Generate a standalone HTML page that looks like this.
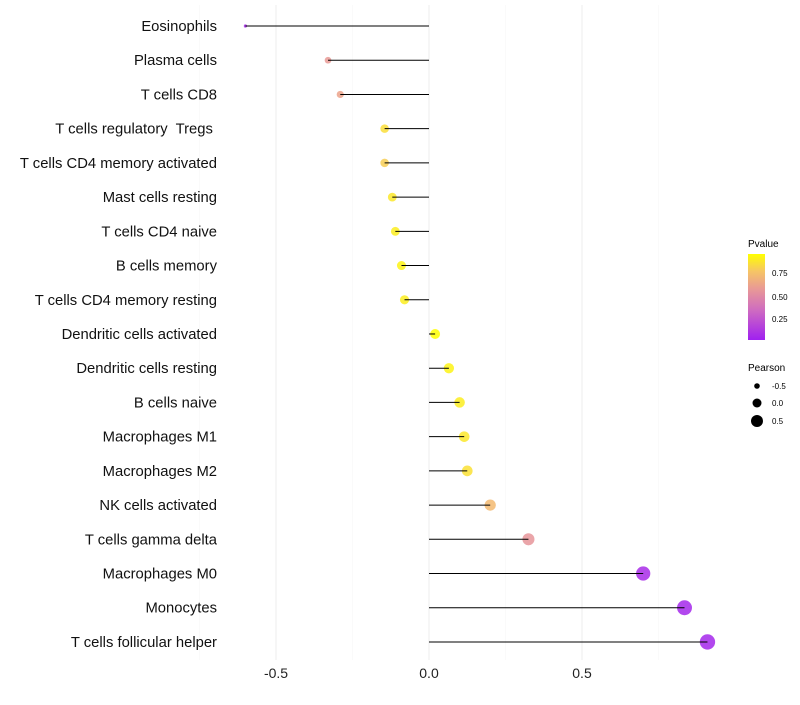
<!DOCTYPE html>
<html><head><meta charset="utf-8"><style>
body{margin:0;background:#fff;font-family:"Liberation Sans",sans-serif}
</style></head><body>
<svg id="chart" width="800" height="700" xmlns="http://www.w3.org/2000/svg">
<defs><linearGradient id="pg" x1="0" y1="1" x2="0" y2="0">
<stop offset="0" stop-color="#a020f0"/><stop offset="0.35" stop-color="#cf6cc0"/><stop offset="0.6" stop-color="#e99a95"/><stop offset="0.8" stop-color="#f6c565"/><stop offset="1" stop-color="#ffff00"/></linearGradient></defs>
<g id="grid"></g><g id="dots"></g><g id="stems"></g><g id="labels"></g>
<g>
<text x="748" y="247" font-size="10">Pvalue</text>
<rect x="748" y="254" width="17" height="86" fill="url(#pg)"/>
<text x="772" y="276" font-size="8">0.75</text><text x="772" y="300" font-size="8">0.50</text><text x="772" y="322" font-size="8">0.25</text>
</g>
<g>
<text x="748" y="371" font-size="10">Pearson</text>
<circle cx="757" cy="386" r="2.8"/><text x="772" y="389" font-size="8">-0.5</text>
<circle cx="757" cy="403" r="4.5"/><text x="772" y="406" font-size="8">0.0</text>
<circle cx="757" cy="421" r="6"/><text x="772" y="424" font-size="8">0.5</text>
</g>
</svg>
<script>
const cells=["Eosinophils","Plasma cells","T cells CD8","T cells regulatory  Tregs ","T cells CD4 memory activated","Mast cells resting","T cells CD4 naive","B cells memory","T cells CD4 memory resting","Dendritic cells activated","Dendritic cells resting","B cells naive","Macrophages M1","Macrophages M2","NK cells activated","T cells gamma delta","Macrophages M0","Monocytes","T cells follicular helper"];
const pearson=[-0.60,-0.33,-0.29,-0.145,-0.145,-0.12,-0.11,-0.09,-0.08,0.02,0.065,0.10,0.115,0.125,0.20,0.325,0.70,0.835,0.91];
const pvalue=[0.05,0.58,0.62,0.85,0.8,0.88,0.9,0.92,0.9,0.98,0.92,0.9,0.88,0.86,0.72,0.55,0.06,0.04,0.04];
const xticks=[-0.5,0,0.5];
const xtickLabels=["-0.5","0.0","0.5"];
const NS="http://www.w3.org/2000/svg";
const X=v=>429+v*306, Y=i=>26+i*34.22, R=v=>Math.max(1.6,6.2*Math.sqrt(Math.max(0,v+0.62)));
const stops=[[0,[160,32,240]],[0.35,[207,108,192]],[0.6,[233,154,149]],[0.8,[246,197,101]],[1,[255,255,0]]];
function col(p){p=Math.max(0,Math.min(1,(p-0.006)/0.954));for(let i=1;i<stops.length;i++){if(p<=stops[i][0]){const a=stops[i-1],b=stops[i],t=(p-a[0])/(b[0]-a[0]);return "rgb("+a[1].map((c,k)=>Math.round(c+(b[1][k]-c)*t)).join(",")+")";}}return "rgb(255,255,0)";}
function mk(t,a,p){const e=document.createElementNS(NS,t);for(const k in a)e.setAttribute(k,a[k]);p.appendChild(e);return e;}
const grid=document.getElementById('grid'),dots=document.getElementById('dots'),stems=document.getElementById('stems'),labels=document.getElementById('labels');
[-0.75,-0.25,0.25,0.75].forEach(v=>{const l=mk('line',{x1:X(v),x2:X(v),y1:5,y2:660,stroke:'#f6f6f6','stroke-width':0.6},grid);

});
xticks.forEach((v,i)=>{const l=mk('line',{x1:X(v),x2:X(v),y1:5,y2:660,stroke:'#ededed','stroke-width':1},grid);


const t=mk('text',{x:X(v),y:678,'font-size':14,'text-anchor':'middle',fill:'#222'},labels);t.textContent=xtickLabels[i];

});
cells.forEach((c,i)=>{const y=Y(i);
const d=mk('circle',{cx:X(pearson[i]),cy:y,r:R(pearson[i]),fill:col(pvalue[i]),'fill-opacity':0.85},dots);


const l=mk('line',{x1:X(0),x2:X(pearson[i]),y1:y,y2:y,stroke:'#000','stroke-width':1},stems);


const t=mk('text',{x:217,y:y+5,'font-size':14.8,'text-anchor':'end',fill:'#111','xml:space':'preserve'},labels);t.textContent=c;
t.style.whiteSpace='pre';

});
</script>
</body></html>
